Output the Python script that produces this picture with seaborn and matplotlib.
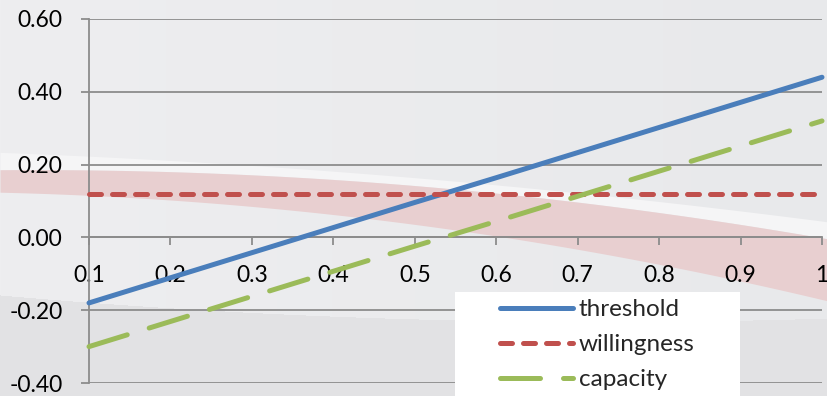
import numpy as np
import pandas as pd
import matplotlib
matplotlib.use("Agg")
import matplotlib.pyplot as plt
from matplotlib.patches import Rectangle
import seaborn as sns

# ---- data ----
x_values = [0.1, 0.2, 0.3, 0.4, 0.5, 0.6, 0.7, 0.8, 0.9, 1.0]
threshold = [-0.180, -0.111, -0.042, 0.027, 0.096, 0.164, 0.233, 0.302, 0.371, 0.440]
willingness = [0.12, 0.12, 0.12, 0.12, 0.12, 0.12, 0.12, 0.12, 0.12, 0.12]
capacity = [-0.300, -0.231, -0.162, -0.093, -0.024, 0.044, 0.113, 0.182, 0.251, 0.320]
series_names = ["threshold", "willingness", "capacity"]
x_tick_labels = ["0.1", "0.2", "0.3", "0.4", "0.5", "0.6", "0.7", "0.8", "0.9", "1"]
y_ticks = [-0.4, -0.2, 0.0, 0.2, 0.4, 0.6]

df = pd.DataFrame({
    "x": x_values * 3,
    "value": threshold + willingness + capacity,
    "series": [n for n in series_names for _ in x_values],
})

sns.set_style("white")
plt.rcParams["font.family"] = ["Lato", "DejaVu Sans"]

W, H = 828, 396
fig = plt.figure(figsize=(W / 100, H / 100), dpi=100)

# ---- slide-style background ----
bg = fig.add_axes([0, 0, 1, 1], zorder=-10)
bg.set_xlim(0, W)
bg.set_ylim(H, 0)
bg.axis("off")

def curve(pts, xs):
    px, py = zip(*pts)
    coef = np.polyfit(px, py, 2)
    return np.polyval(coef, xs)

xs = np.linspace(0, W, 400)
yy, xx = np.mgrid[0:H, 0:W]
top_col = np.array([238, 238, 240]) / 255
top_col_r = np.array([232, 233, 235]) / 255
low_col = np.array([226, 226, 228]) / 255
t = (xx / W)[..., None]
img = top_col * (1 - t) + top_col_r * t
low_edge = curve([(0, 295), (460, 320), (828, 318)], np.arange(W))
img = np.where((yy >= low_edge[None, :])[..., None], low_col, img)
bg.imshow(img, extent=(0, W, H, 0), aspect="auto", interpolation="bilinear")

stripe_top = curve([(0, 154), (300, 163), (550, 196), (828, 220)], xs)
pink_top = curve([(0, 170), (460, 187), (600, 208), (828, 238)], xs)
pink_bot = curve([(0, 193), (300, 208), (460, 232), (600, 255), (828, 300)], xs)
bg.fill_between(xs, stripe_top, pink_top, color="#f5f5f6", lw=0)
bg.fill_between(xs, pink_top, pink_bot, color="#e8cfd0", lw=0)

# ---- chart ----
ax = fig.add_axes([89 / W, 1 - 383 / H, (822 - 89) / W, (383 - 19) / H])
ax.set_facecolor("none")

palette = {"threshold": "#4A7EBB", "willingness": "#C0504D", "capacity": "#9BBB59"}
dashes = {"threshold": "", "willingness": (2.4, 2.2), "capacity": (8.0, 4.6)}

sns.lineplot(
    data=df, x="x", y="value", hue="series", style="series",
    hue_order=series_names, style_order=series_names,
    palette=palette, dashes=dashes, linewidth=3.6, legend=False,
    ax=ax, dash_capstyle="round", solid_capstyle="round", clip_on=False,
    zorder=3,
)
for line, name in zip(ax.lines, series_names):
    line.set_label(name)

ax.set_xlim(0.1, 1.0)
ax.set_ylim(-0.4, 0.6)
ax.set_xlabel("")
ax.set_ylabel("")

grid_col = "#8c8c8c"
ax.set_yticks(y_ticks)
ax.set_yticklabels([f"{v:.2f}" for v in y_ticks])
ax.yaxis.grid(True, color=grid_col, lw=1.3)
ax.set_axisbelow(True)
ax.set_xticks(x_values)
ax.set_xticklabels(x_tick_labels)

for side in ("top", "right"):
    ax.spines[side].set_visible(False)
ax.spines["left"].set_color(grid_col)
ax.spines["left"].set_linewidth(1.3)
ax.spines["bottom"].set_position(("data", 0.0))
ax.spines["bottom"].set_color(grid_col)
ax.spines["bottom"].set_linewidth(1.3)

ax.tick_params(axis="y", left=True, length=6, width=1.3, color=grid_col,
               pad=13, labelsize=16.5, labelcolor="black")
ax.tick_params(axis="x", bottom=True, length=6, width=1.3, color=grid_col,
               pad=14, labelsize=16.5, labelcolor="black")

# legend panel
ax.add_patch(Rectangle((455 / W, 0), (740 - 455) / W, 1 - 292 / H,
                       transform=fig.transFigure, facecolor="white",
                       edgecolor="none", zorder=4, clip_on=False))
leg = fig.legend(
    handles=ax.lines, labels=series_names, loc="upper left",
    bbox_to_anchor=(500 / W, 1 - 299 / H), frameon=False,
    fontsize=17.5, handlelength=3.0, handletextpad=0.25, labelspacing=0.58,
    borderpad=0, borderaxespad=0,
)
leg.set_zorder(5)

fig.savefig("out.png", dpi=100)
